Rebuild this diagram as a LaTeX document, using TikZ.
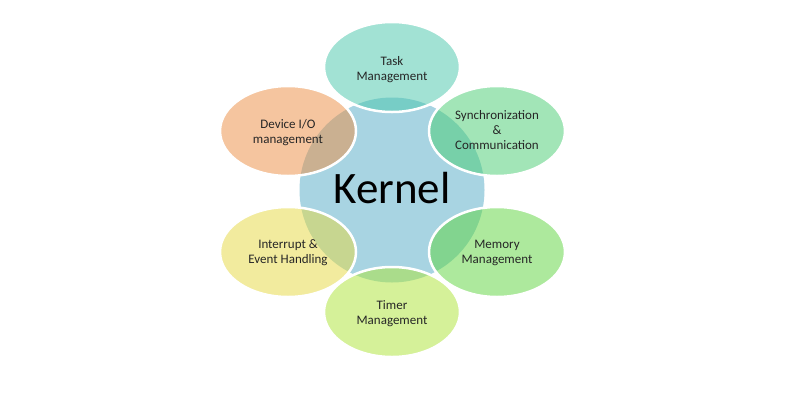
\documentclass[tikz,border=0pt]{standalone}
\usepackage{fontspec}
\setmainfont{Carlito}
\definecolor{kern}{RGB}{168,212,226}
\definecolor{ctask}{RGB}{71,199,171}
\definecolor{csync}{RGB}{71,205,113}
\definecolor{cmem}{RGB}{93,213,61}
\definecolor{ctimer}{RGB}{173,229,53}
\definecolor{cint}{RGB}{231,217,63}
\definecolor{cdev}{RGB}{237,141,65}
\tikzset{
  petal/.style={ellipse, minimum width=136pt, minimum height=90pt, draw=white, line width=2.5pt, fill opacity=0.5, draw opacity=1, inner sep=0pt},
  ptext/.style={align=center, font=\fontsize{13}{15}\selectfont, text=black!85, inner sep=0pt},
}
\usetikzlibrary{shapes.geometric}
\begin{document}
\begin{tikzpicture}[x=1pt,y=-1pt]
\useasboundingbox (0,0) rectangle (800,400);
\fill[white] (0,0) rectangle (800,400);
\node[circle, fill=kern, minimum size=185pt, inner sep=0pt] (kernel) at (392,190) {};
\node[petal, fill=ctask] (task) at (392,67) {};
\node[petal, fill=csync] (sync) at (497,131) {};
\node[petal, fill=cmem] (mem) at (497,252) {};
\node[petal, fill=ctimer] (timer) at (392,312) {};
\node[petal, fill=cint] (int) at (288,252) {};
\node[petal, fill=cdev] (dev) at (288,131) {};
\node[ptext] (tasktxt) at (392,70) {Task\\Management};
\node[ptext] (synctxt) at (497,130) {Synchronization\\\&\\Communication};
\node[ptext] (memtxt) at (497,253) {Memory\\Management};
\node[ptext] (timertxt) at (392,314) {Timer\\Management};
\node[ptext] (inttxt) at (288,253) {Interrupt \&\\Event Handling};
\node[ptext] (devtxt) at (288,133) {Device I/O\\management};
\node[font=\fontsize{45}{50}\selectfont, text=black] (klabel) at (392,188) {Kernel};
\end{tikzpicture}
\end{document}
